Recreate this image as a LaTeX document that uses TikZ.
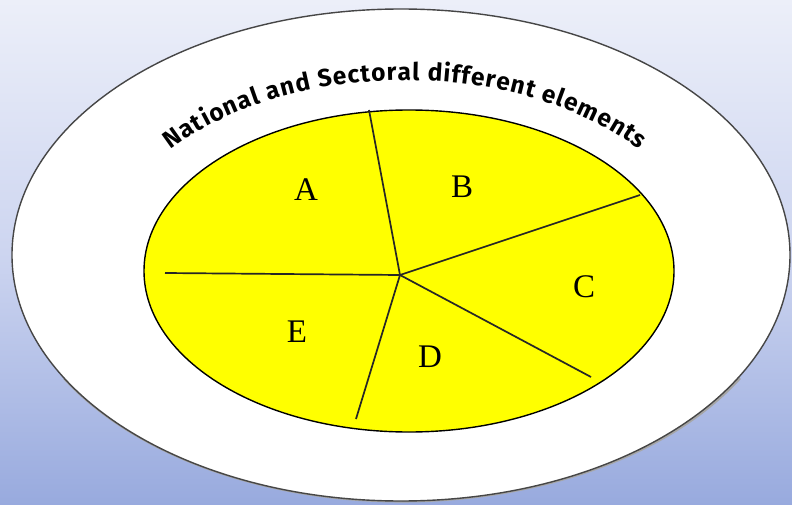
\documentclass[tikz,border=0pt]{standalone}
\usepackage{fontspec}
\setmainfont{Liberation Serif}
\newfontfamily\arcfont{Fira Sans}
\usetikzlibrary{decorations.text}
\definecolor{bgtop}{RGB}{236,239,249}
\definecolor{bgmid}{RGB}{205,213,240}
\definecolor{bgbot}{RGB}{152,170,222}
\definecolor{rimgray}{RGB}{70,70,70}
\definecolor{pieyellow}{RGB}{255,255,0}
\tikzset{
  rim/.style={draw=rimgray, line width=1.4pt, fill=white},
  pie/.style={draw=black, line width=1.4pt, fill=pieyellow},
  divider/.style={draw=black!85, line width=1.7pt},
  seglabel/.style={font=\fontsize{33}{33}\selectfont, text=black, inner sep=0pt}
}
\begin{document}
\begin{tikzpicture}[x=1pt,y=-1pt]
\useasboundingbox (0,0) rectangle (792,505);
\fill[top color=bgtop, bottom color=bgbot, middle color=bgmid] (0,0) rectangle (792,505);
% outer ellipse with soft bottom shadow
\draw[gray!70, line width=3pt] (402,255) ++(30:390 and 246) arc[start angle=30, end angle=150, x radius=390, y radius=246];
\path[rim] (401,255) ellipse[x radius=389, y radius=246];
% curved title
\path[decorate, decoration={text along path, text align={fit to path},
  text={|\arcfont\bfseries\fontsize{24.5}{24.5}\selectfont|National and Sectoral different elements}}]
  (170.6,149.7) arc[start angle=220, end angle=320, x radius=306, y radius=195];
% inner pie
\path[pie] (409,271) ellipse[x radius=265, y radius=161];
\coordinate (o) at (400,275);
\coordinate (pAB) at (369,110);
\coordinate (pBC) at (640,195);
\coordinate (pCD) at (591,377);
\coordinate (pDE) at (356,419);
\coordinate (pEA) at (165,273);
\draw[divider] (o) -- (pAB);
\draw[divider] (o) -- (pBC);
\draw[divider] (o) -- (pCD);
\draw[divider] (o) -- (pDE);
\draw[divider] (o) -- (pEA);
\node[seglabel] (A) at (306,190) {A};
\node[seglabel] (B) at (462,187) {B};
\node[seglabel] (C) at (584,287) {C};
\node[seglabel] (D) at (430,357) {D};
\node[seglabel] (E) at (297,332) {E};
\end{tikzpicture}
\end{document}
